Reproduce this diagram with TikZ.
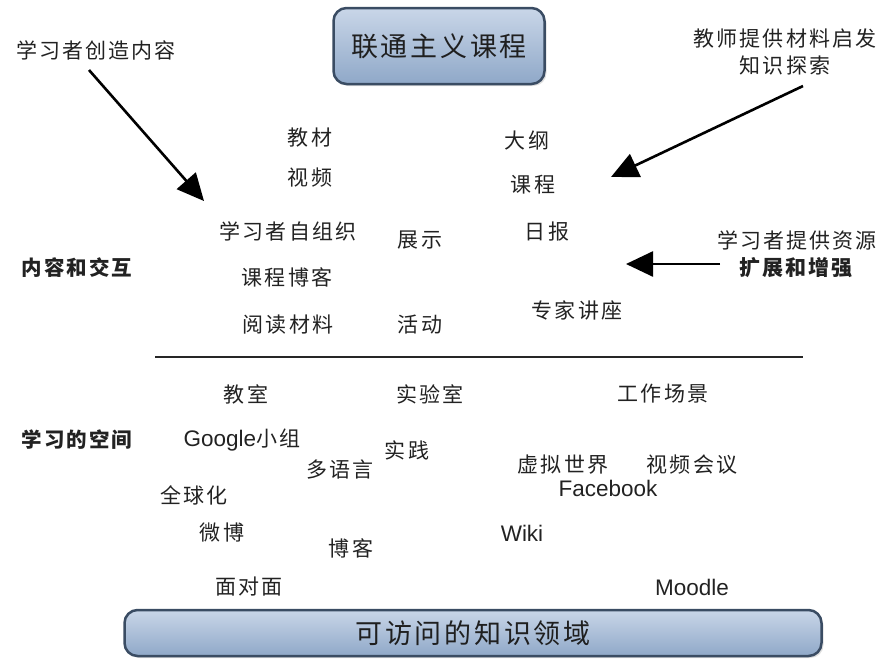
\documentclass[tikz,border=0pt]{standalone}
\usepackage{fontspec}
\setmainfont{Noto Sans CJK SC}[LetterSpace=10]
\newfontfamily\latin{Liberation Sans}
\usetikzlibrary{arrows.meta,shadows}
\definecolor{boxA}{HTML}{C9D6E8}
\definecolor{boxB}{HTML}{8FA8C8}
\definecolor{boxline}{HTML}{3A4C63}
\definecolor{txt}{HTML}{222222}
\begin{document}
\begin{tikzpicture}[x=1pt,y=-1pt,
  lbl/.style={font=\fontsize{21}{27}\selectfont, text=txt, inner sep=0pt, align=center},
  lat/.style={lbl, font=\fontsize{22.5}{27}\selectfont\latin},
  sect/.style={lbl, font=\fontsize{20.5}{27}\selectfont\bfseries},
  bigbox/.style={draw=boxline, line width=2.5pt, rounded corners=13pt,
     top color=boxA, bottom color=boxB, text=black!88,
     font=\fontsize{27}{30}\selectfont, drop shadow={opacity=0.25, shadow xshift=2pt, shadow yshift=-2pt}},
  bigarrow/.style={line width=2.6pt, draw=black, -{Triangle[length=27pt,width=25pt]}}
]
\useasboundingbox (0,0) rectangle (886,662);

% boxes
\node[bigbox, minimum width=211pt, minimum height=76pt] (top) at (439,46) {联通主义课程};
\node[bigbox, minimum width=697pt, minimum height=46pt] (bottom) at (473,633) {可访问的知识领域};

% divider
\coordinate (divL) at (155,357);
\coordinate (divR) at (803,357);
\draw[line width=2.2pt, draw=black!85] (divL) -- (divR);

% annotation labels
\node[lbl] (create) at (96,50) {学习者创造内容};
\node[lbl] (teach) at (785,52) {教师提供材料启发\\知识探索};
\node[lbl] (provide) at (797,254) {学习者提供资源\\\textbf{扩展和增强}};

% section labels
\node[sect] (content) at (77,268) {内容和交互};
\node[sect] (space) at (77,440) {学习的空间};

% upper items
\node[lbl] (jc) at (310,138) {教材};
\node[lbl] (sp) at (310,178) {视频};
\node[lbl] (dg) at (527,140) {大纲};
\node[lbl] (kc) at (533,185) {课程};
\node[lbl] (zzz) at (288,231) {学习者自组织};
\node[lbl] (zs) at (420,240) {展示};
\node[lbl] (rb) at (547,232) {日报};
\node[lbl] (bk) at (287,277) {课程博客};
\node[lbl] (yd) at (288,325) {阅读材料};
\node[lbl] (hd) at (420,325) {活动};
\node[lbl] (zj) at (577,310) {专家讲座};

% lower items
\node[lbl] (js) at (246,394) {教室};
\node[lbl] (sys) at (430,394) {实验室};
\node[lbl] (gz) at (663,394) {工作场景};
\node[lbl] (gg) at (242,440) {{\latin\fontsize{22.5}{27}\selectfont Google}小组};
\node[lbl] (shj) at (407,450) {实践};
\node[lbl] (dy) at (340,470) {多语言};
\node[lbl] (xn) at (563,465) {虚拟世界};
\node[lbl] (sphy) at (692,465) {视频会议};
\node[lat] (fb) at (608,488) {Facebook};
\node[lbl] (qq) at (194,495) {全球化};
\node[lbl] (wb) at (222,533) {微博};
\node[lat] (wiki) at (522,533) {Wiki};
\node[lbl] (bkk) at (351,548) {博客};
\node[lbl] (mdm) at (249,587) {面对面};
\node[lat] (md) at (692,587) {Moodle};

% arrows
\coordinate (a1s) at (89,70);
\coordinate (a1e) at (204,201);
\coordinate (a2s) at (803,86);
\coordinate (a2e) at (611,177);
\coordinate (a3s) at (720,264);
\coordinate (a3e) at (626,264);
\draw[bigarrow] (a1s) -- (a1e);
\draw[bigarrow] (a2s) -- (a2e);
\draw[bigarrow] (a3s) -- (a3e);
\end{tikzpicture}
\end{document}
